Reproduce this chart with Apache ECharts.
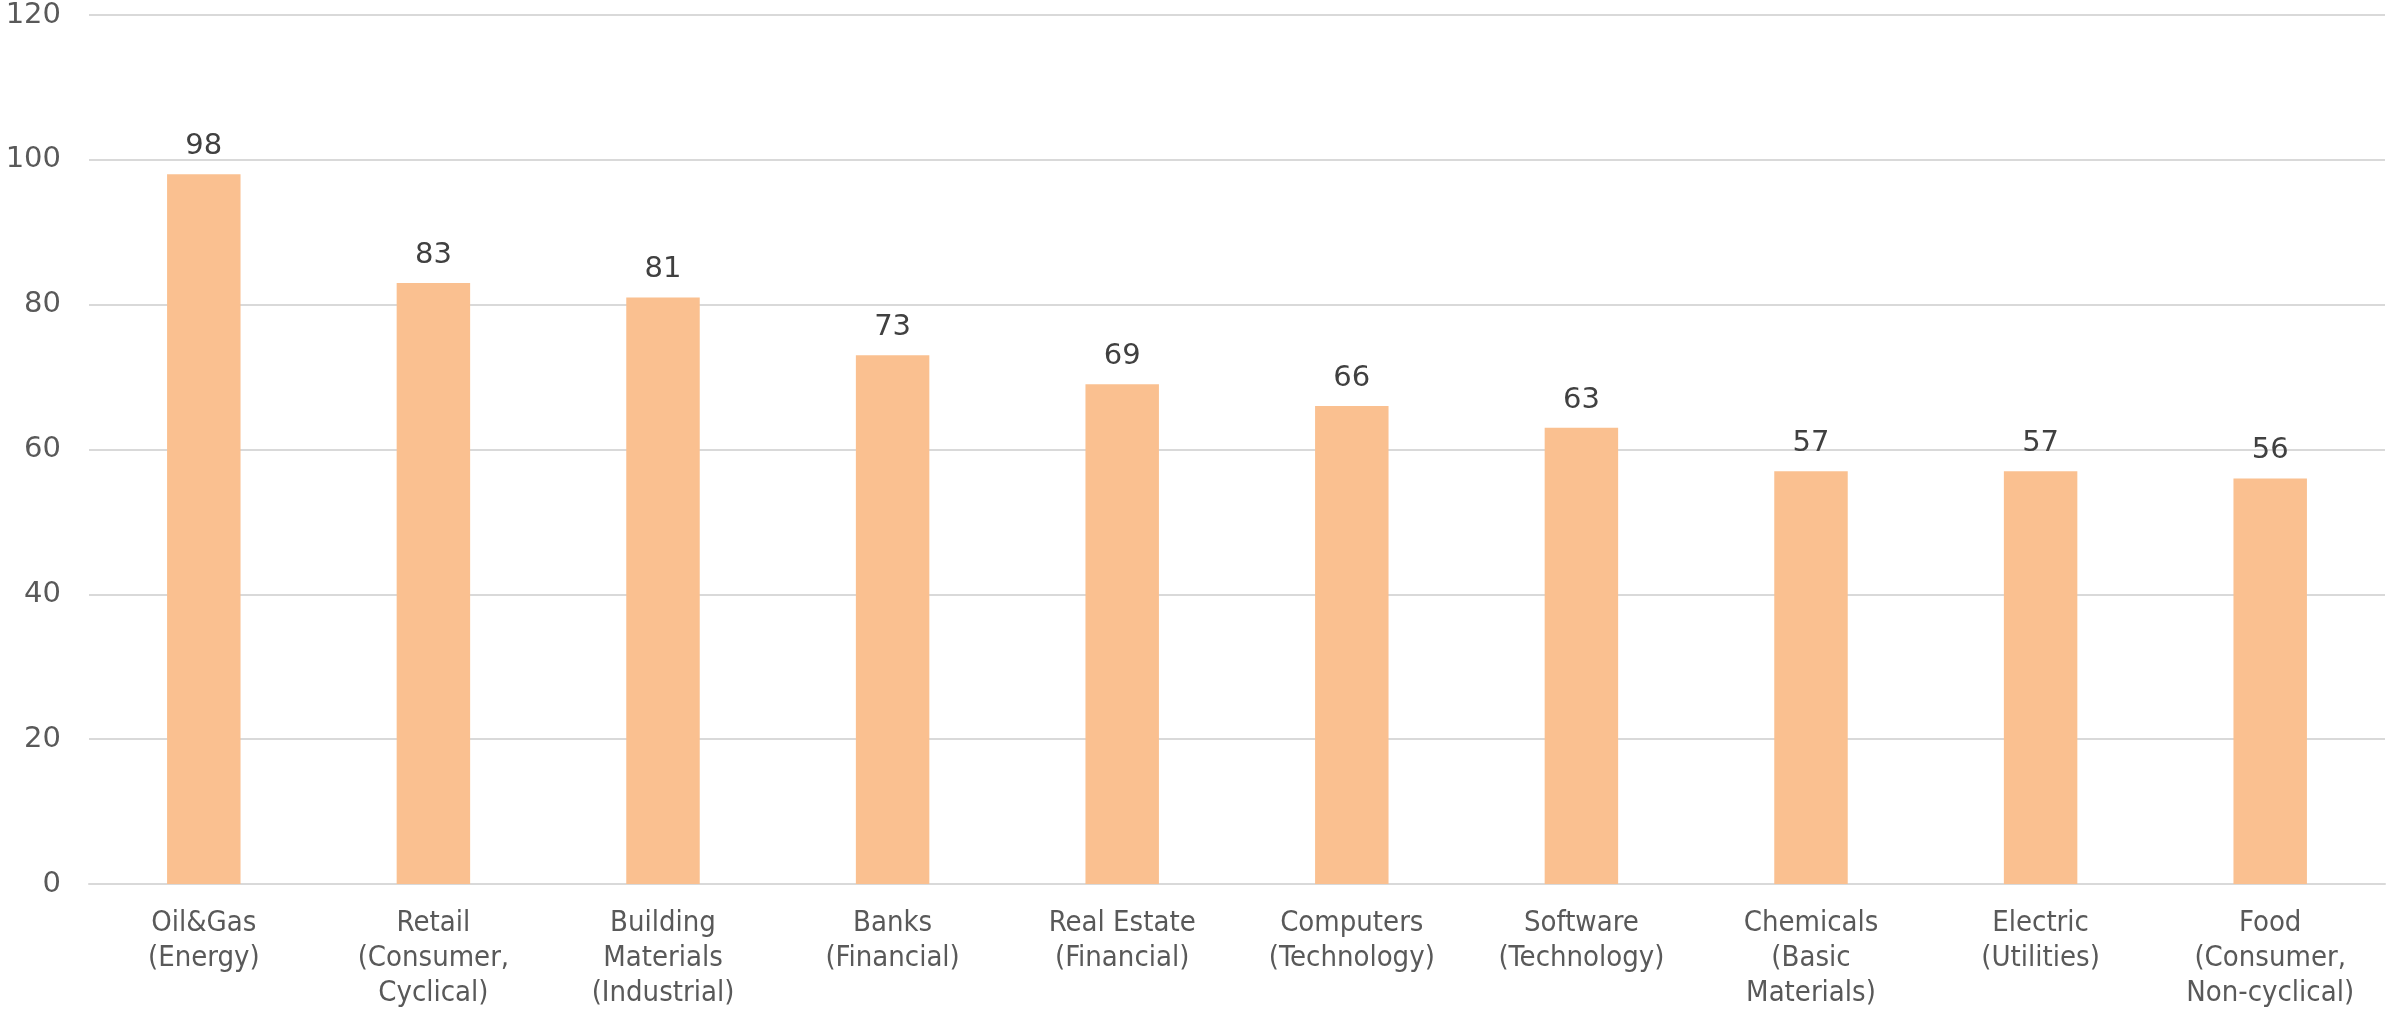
<!DOCTYPE html>
<html>
<head>
<meta charset="utf-8">
<script src="https://cdn.jsdelivr.net/npm/echarts@6/dist/echarts.min.js"></script>
<style>
html,body{margin:0;padding:0;background:#fff;}
#chart{width:2386px;height:1011px;}
</style>
</head>
<body>
<div id="chart"></div>
<script>
const categories = [
  "Oil&Gas\n(Energy)",
  "Retail\n(Consumer,\nCyclical)",
  "Building\nMaterials\n(Industrial)",
  "Banks\n(Financial)",
  "Real Estate\n(Financial)",
  "Computers\n(Technology)",
  "Software\n(Technology)",
  "Chemicals\n(Basic\nMaterials)",
  "Electric\n(Utilities)",
  "Food\n(Consumer,\nNon-cyclical)"
];
const values = [98, 83, 81, 73, 69, 66, 63, 57, 57, 56];
const yMin = 0, yMax = 120, yStep = 20;

const FONT = '"DejaVu Sans Condensed", "Liberation Sans Narrow", "Roboto", sans-serif';
const NUMFONT = '"DejaVu Sans", "Roboto", sans-serif';
const chart = echarts.init(document.getElementById('chart'), null, {renderer: 'canvas'});
chart.setOption({
  animation: false,
  backgroundColor: '#ffffff',
  grid: {left: 89, right: 1, top: 15, bottom: 127, containLabel: false},
  xAxis: {
    type: 'category',
    data: categories,
    axisLine: {show: true, lineStyle: {color: '#d9d9d9', width: 2}},
    axisTick: {show: false},
    axisLabel: {
      interval: 0,
      color: '#595959',
      fontFamily: FONT,
      fontSize: 29,
      lineHeight: 35,
      margin: 22,
      align: 'center'
    }
  },
  yAxis: {
    type: 'value',
    min: yMin, max: yMax, interval: yStep,
    axisLine: {show: false},
    axisTick: {show: false},
    splitLine: {lineStyle: {color: '#d9d9d9', width: 2}},
    axisLabel: {color: '#595959', fontFamily: NUMFONT, fontSize: 29, margin: 28}
  },
  series: [{
    type: 'bar',
    data: values,
    barWidth: '32%',
    itemStyle: {color: '#FAC090'},
    label: {
      show: true,
      position: 'top',
      distance: 13,
      color: '#404040',
      fontFamily: NUMFONT,
      fontSize: 29
    }
  }]
});
</script>
</body>
</html>
